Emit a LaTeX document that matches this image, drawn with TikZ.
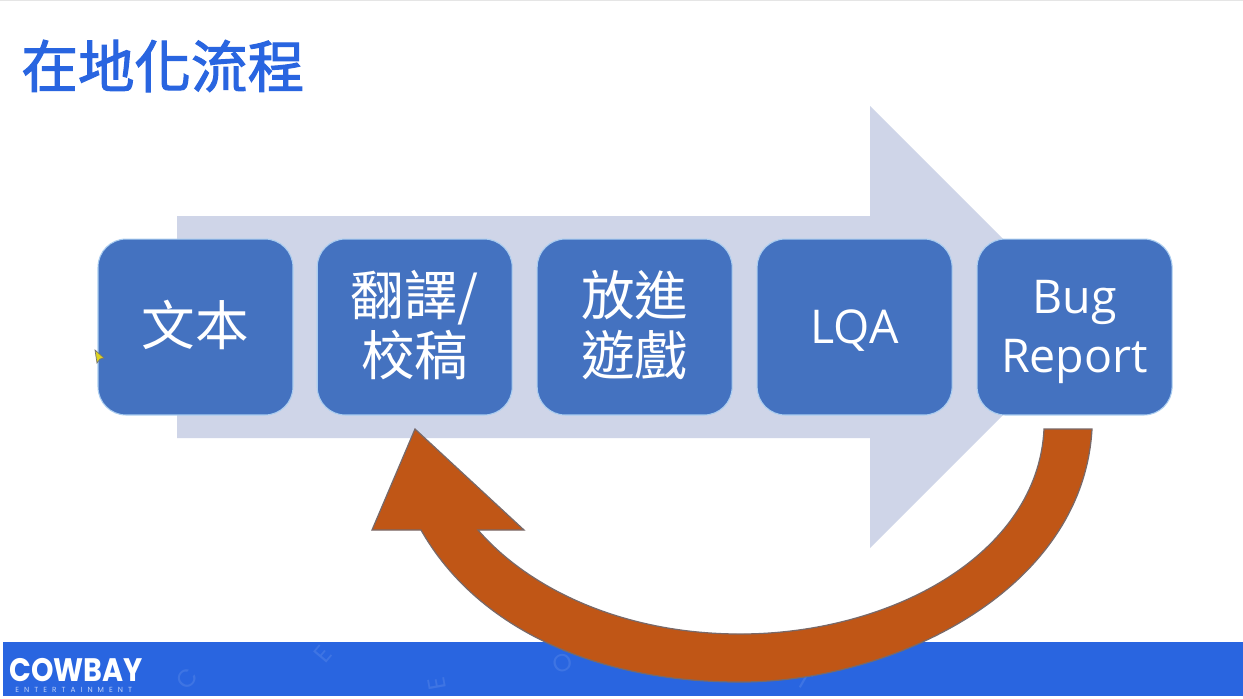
\documentclass[tikz,border=0pt]{standalone}
\usepackage{fontspec}
\setmainfont{Open Sans}
\newfontfamily\cjkfont{Noto Sans CJK TC}
\newfontfamily\headfont[FakeBold=2]{Noto Sans CJK TC}
\newfontfamily\logofont{Poppins}
\newfontfamily\logosubfont[LetterSpace=68]{Poppins}
\usetikzlibrary{shapes,positioning}
\definecolor{barblue}{RGB}{41,101,224}
\definecolor{boxblue}{RGB}{68,114,192}
\definecolor{boxline}{RGB}{170,205,240}
\definecolor{paleshaft}{RGB}{207,213,232}
\definecolor{rustfill}{RGB}{192,86,22}
\definecolor{rustline}{RGB}{120,105,105}
\newcommand{\nudge}[2]{\raisebox{#1}[\height][\depth]{#2}}
\tikzset{
	stepbox/.style={draw=boxline,line width=0.6pt,fill=boxblue,rounded corners=16pt,
		minimum width=3.9cm,minimum height=3.52cm,inner sep=0pt,outer sep=0pt,align=center,
		text=white,font=\fontsize{26.5}{33.5}\selectfont},
	cjkstep/.style={font=\cjkfont\fontsize{30.5}{34}\selectfont},
	faintmark/.style={text=white,opacity=0.1,inner sep=0pt,font=\logofont\fontsize{14}{14}\selectfont}
}
\begin{document}
\begin{tikzpicture}[x=0.02cm,y=-0.02cm]
	\useasboundingbox (0,0) rectangle (1243,698);
	\fill [white] (0,0) rectangle (1243,698);
	\fill [black!10] (0,0) rectangle (1243,1);
	% bottom band
	\fill [barblue] (3,642) rectangle (1243,696);
	\node (markc) [faintmark,rotate=50] at (187,679) {C};
	\node (marke) [faintmark,rotate=50] at (323,654) {E};
	\node (markn) [faintmark,rotate=100] at (437,684) {E};
	\node (marko) [faintmark,rotate=20] at (563,663) {O};
	\node (markt) [faintmark,rotate=-30] at (805,680) {T};
	% pale arrow behind the boxes
	\fill [paleshaft] (177,216) -- (870,216) -- (870,106) -- (1091,327) -- (870,548) -- (870,438) -- (177,438) -- cycle;
	% title
	\node (title) [anchor=west,inner sep=0pt,text=barblue,font=\headfont\fontsize{32.2}{36}\selectfont] at (21,66) {在地化流程};
	% boxes
	\node (text) [stepbox,cjkstep] at (195.5,327) {\nudge{1.1pt}{文本}};
	\node (trans) [stepbox,cjkstep,right=0.485cm of text] {\nudge{1.1pt}{翻譯/}\\\nudge{1.1pt}{校稿}};
	\node (ingame) [stepbox,cjkstep,right=0.5cm of trans] {\nudge{1.1pt}{放進}\\\nudge{1.1pt}{遊戲}};
	\node (lqa) [stepbox,right=0.5cm of ingame] {\nudge{-2.3pt}{LQA}};
	\node (bug) [stepbox,right=0.5cm of lqa] {\nudge{-2.8pt}{Bug}\\\nudge{-2.8pt}{Report}};
	% return arrow
	\draw [rustline,fill=rustfill,line width=0.7pt,line join=miter] (1044,429) -- (1092,429)
		.. controls (1083,590) and (895,682) .. (740,682)
		.. controls (590,682) and (475,625) .. (421,530)
		-- (372,530) -- (415,429) -- (524,530) -- (478,530)
		.. controls (530,590) and (625,634) .. (740,634)
		.. controls (890,634) and (1038,555) .. (1044,429) -- cycle;
	% logo
	\node (logo) [anchor=base west,inner sep=0pt,xscale=0.88,text=white,font=\logofont\bfseries\fontsize{18.5}{19}\selectfont] at (9,681) {COWBAY};
	\node (logosub) [anchor=base west,inner sep=0pt,text=white!70!barblue,font=\logosubfont\fontsize{4.2}{5}\selectfont] at (15,692) {ENTERTAINMENT};
	% pointer
	\filldraw [draw=black!55,fill=yellow!85!black,line width=0.4pt] (95,350) -- (104,358) -- (100,359) -- (97,363) -- cycle;
\end{tikzpicture}
\end{document}
